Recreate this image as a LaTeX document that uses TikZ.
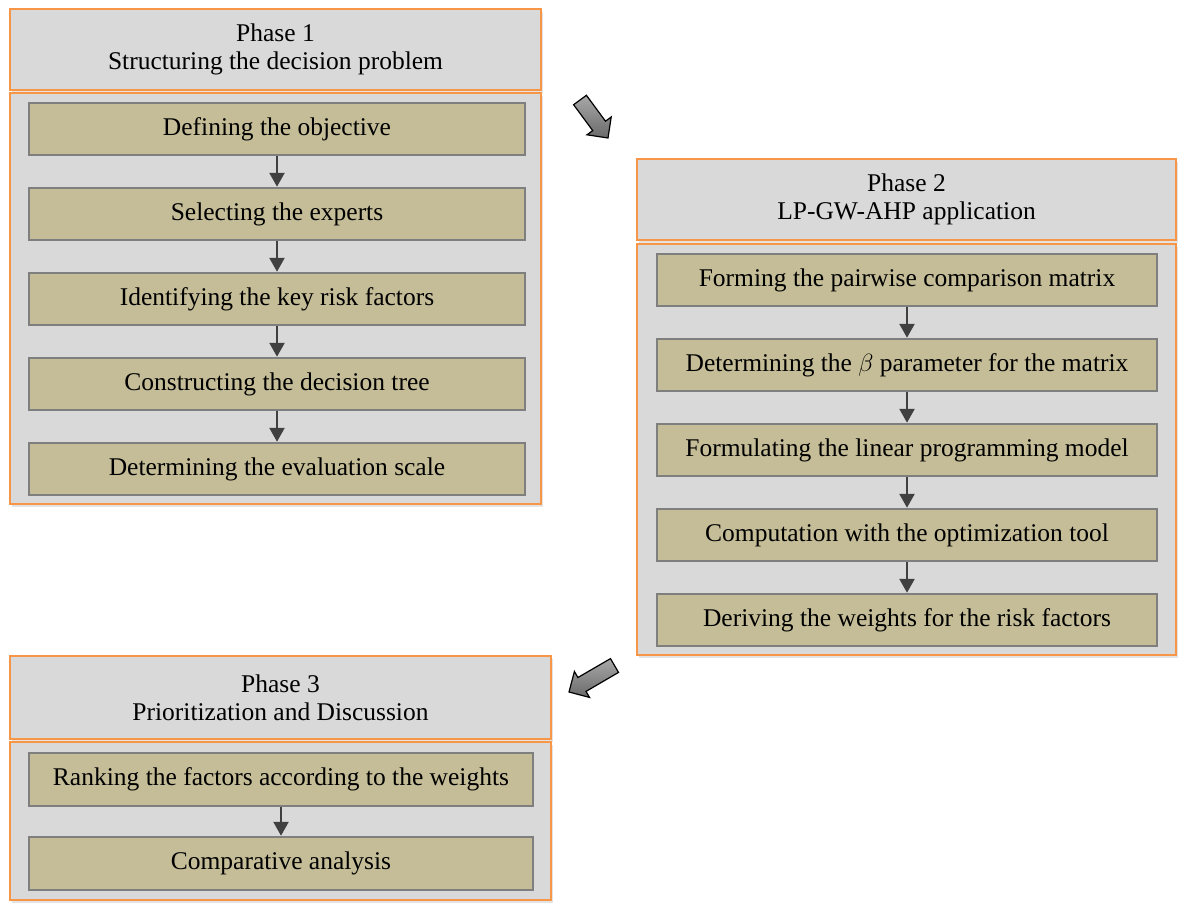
\documentclass[tikz,border=0pt]{standalone}
\usepackage{fontspec}
\setmainfont{Liberation Serif}
\usetikzlibrary{arrows.meta,shadows}
\definecolor{frameorange}{HTML}{F79646}
\definecolor{panelgray}{HTML}{D9D9D9}
\definecolor{boxtan}{HTML}{C4BD97}
\definecolor{boxedge}{HTML}{7F7F7F}
\definecolor{flowgray}{HTML}{404040}
\definecolor{arrowlight}{HTML}{A8A8A8}
\definecolor{arrowdark}{HTML}{6A6A6A}
\begin{document}
\begin{tikzpicture}[x=1pt,y=-1pt,
  panel/.style={draw=frameorange,line width=2pt,fill=panelgray,inner sep=0pt,
    drop shadow={shadow xshift=2pt,shadow yshift=-3pt,opacity=0.22}},
  header/.style={panel,align=center,font=\fontsize{25.5}{28}\selectfont},
  stepbox/.style={draw=boxedge,line width=2.5pt,fill=boxtan,inner sep=0pt,
    minimum height=52pt,font=\fontsize{25.5}{28}\selectfont},
  flow/.style={draw=flowgray,line width=2.6pt,-{Triangle[width=15pt,length=14pt]}},
  bigarrow/.style={draw=black,line width=1.2pt,top color=arrowlight,bottom color=arrowdark},
]
\useasboundingbox (0,0) rectangle (1182,902);

% ---------- Phase 1 ----------
\node[header,minimum width=531pt,minimum height=81pt] (h1) at (275.5,49.5)
  {Phase 1\\Structuring the decision problem};
\node[panel,minimum width=531pt,minimum height=411pt] (p1) at (275.5,298.5) {};
\node[stepbox,minimum width=496pt] (a1) at (277,129) {Defining the objective};
\node[stepbox,minimum width=496pt] (a2) at (277,214) {Selecting the experts};
\node[stepbox,minimum width=496pt] (a3) at (277,299) {Identifying the key risk factors};
\node[stepbox,minimum width=496pt] (a4) at (277,384) {Constructing the decision tree};
\node[stepbox,minimum width=496pt] (a5) at (277,469) {Determining the evaluation scale};
\draw[flow] (a1) -- (a2);
\draw[flow] (a2) -- (a3);
\draw[flow] (a3) -- (a4);
\draw[flow] (a4) -- (a5);

% ---------- Phase 2 ----------
\node[header,minimum width=539pt,minimum height=81pt] (h2) at (906.5,199.5)
  {Phase 2\\LP-GW-AHP application};
\node[panel,minimum width=539pt,minimum height=411pt] (p2) at (906.5,449.5) {};
\node[stepbox,minimum width=500pt] (b1) at (907,280) {Forming the pairwise comparison matrix};
\node[stepbox,minimum width=500pt] (b2) at (907,365) {Determining the $\beta$ parameter for the matrix};
\node[stepbox,minimum width=500pt] (b3) at (907,450) {Formulating the linear programming model};
\node[stepbox,minimum width=500pt] (b4) at (907,535) {Computation with the optimization tool};
\node[stepbox,minimum width=500pt] (b5) at (907,620) {Deriving the weights for the risk factors};
\draw[flow] (b1) -- (b2);
\draw[flow] (b2) -- (b3);
\draw[flow] (b3) -- (b4);
\draw[flow] (b4) -- (b5);

% ---------- Phase 3 ----------
\node[header,minimum width=541pt,minimum height=83pt] (h3) at (280.5,697.5)
  {Phase 3\\Prioritization and Discussion};
\node[panel,minimum width=541pt,minimum height=158pt] (p3) at (280.5,821) {};
\node[stepbox,minimum width=504pt,minimum height=53pt] (c1) at (281,779.5) {Ranking the factors according to the weights};
\node[stepbox,minimum width=504pt,minimum height=53pt] (c2) at (281,863.5) {Comparative analysis};
\draw[flow] (c1) -- (c2);

% ---------- block arrows between phases ----------
\path[bigarrow] (573.6,104.7) -- (592.7,130.6) -- (587.0,134.8) -- (608,138)
  -- (611.2,117.0) -- (605.5,121.2) -- (586.4,95.3) -- cycle;
\path[bigarrow] (618.5,672.4) -- (586.0,691.4) -- (589.5,697.4) -- (569,692)
  -- (574.4,671.5) -- (577.9,677.5) -- (610.5,658.6) -- cycle;
\end{tikzpicture}
\end{document}
